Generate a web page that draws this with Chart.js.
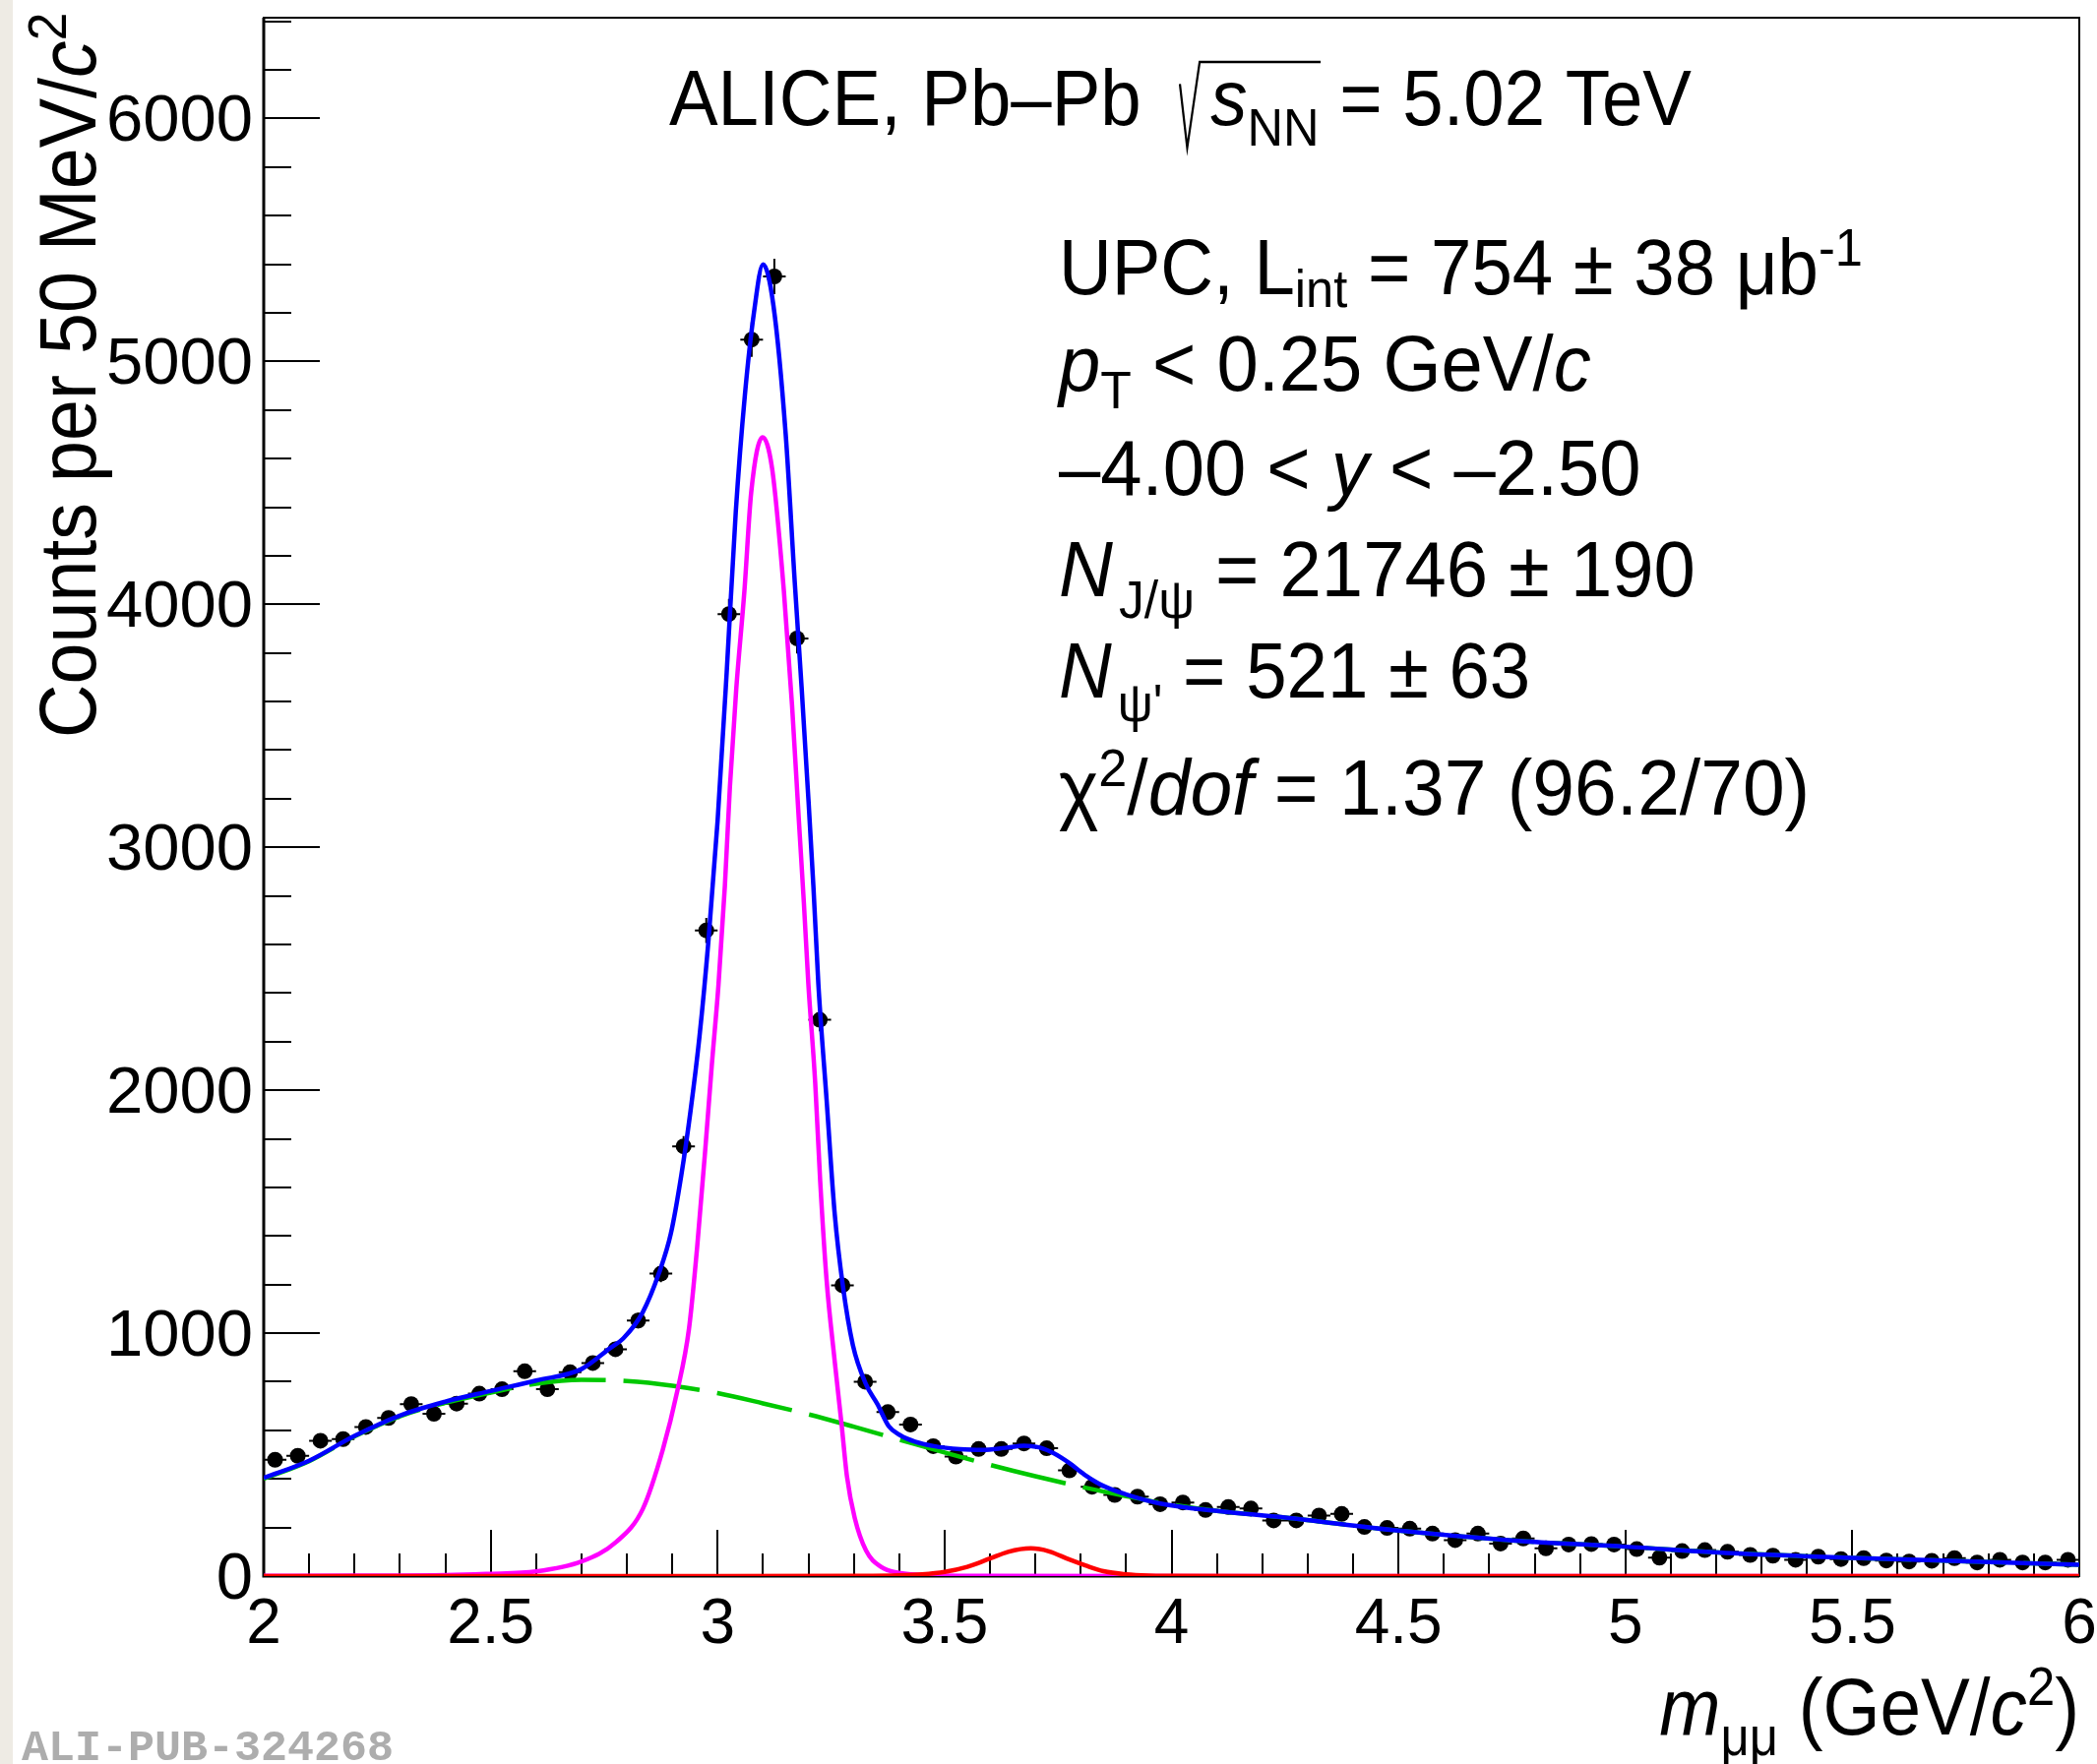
<!DOCTYPE html>
<html>
<head>
<meta charset="utf-8">
<script src="https://cdn.jsdelivr.net/npm/chart.js@4.4.1/dist/chart.umd.min.js"></script>
<style>
  html, body { margin: 0; padding: 0; background: #fff; }
  canvas { display: block; }
</style>
</head>
<body>
<canvas id="grafico" width="2131" height="1793"></canvas>
<script>
const massBins = [
  2.025, 2.075, 2.125, 2.175, 2.225, 2.275, 2.325, 2.375, 2.425, 2.475,
  2.525, 2.575, 2.625, 2.675, 2.725, 2.775, 2.825, 2.875, 2.925, 2.975,
  3.025, 3.075, 3.125, 3.175, 3.225, 3.275, 3.325, 3.375, 3.425, 3.475,
  3.525, 3.575, 3.625, 3.675, 3.725, 3.775, 3.825, 3.875, 3.925, 3.975,
  4.025, 4.075, 4.125, 4.175, 4.225, 4.275, 4.325, 4.375, 4.425, 4.475,
  4.525, 4.575, 4.625, 4.675, 4.725, 4.775, 4.825, 4.875, 4.925, 4.975,
  5.025, 5.075, 5.125, 5.175, 5.225, 5.275, 5.325, 5.375, 5.425, 5.475,
  5.525, 5.575, 5.625, 5.675, 5.725, 5.775, 5.825, 5.875, 5.925, 5.975
];
const counts = [
  479, 495, 557, 564, 614, 651, 708, 668, 710, 751,
  769, 843, 769, 839, 877, 934, 1052, 1245, 1769, 2658,
  3960, 5090, 5350, 3860, 2290, 1197, 800, 675, 624, 535,
  492, 523, 523, 546, 526, 435, 368, 334, 327, 296,
  303, 272, 284, 278, 229, 229, 249, 256, 202, 198,
  195, 175, 148, 175, 134, 155, 114, 130, 132, 130,
  111, 76, 103, 107, 100, 87, 84, 67, 80, 70,
  74, 64, 60, 63, 74, 56, 67, 56, 56, 67
];
const binHalfWidth = 0.025;

// ajuste total (azul)
const totalX = [2.00, 2.10, 2.20, 2.30, 2.40, 2.50, 2.60, 2.70, 2.763, 2.792, 2.835, 2.871, 2.897, 2.920, 2.940, 2.960, 2.980, 3.000, 3.020, 3.040, 3.060, 3.080, 3.100, 3.123, 3.150, 3.170, 3.185, 3.200, 3.211, 3.222, 3.240, 3.258, 3.276, 3.298, 3.327, 3.352, 3.377, 3.402, 3.435, 3.476, 3.534, 3.584, 3.634, 3.675, 3.708, 3.741, 3.775, 3.808, 3.850, 3.899, 3.975, 4.10, 4.25, 4.50, 4.75, 5.00, 5.25, 5.50, 5.75, 6.00];
const totalY = [404, 475, 577, 661, 718, 762, 805, 852, 938, 978, 1086, 1248, 1410, 1650, 1910, 2220, 2620, 3110, 3720, 4380, 4860, 5200, 5400, 5230, 4700, 4090, 3660, 3200, 2841, 2436, 1964, 1491, 1194, 951, 789, 708, 617, 580, 553, 535, 522, 519, 528, 537, 530, 505, 465, 418, 371, 337, 299, 268, 241, 187, 147, 121, 93, 75, 61, 47];

// sinal J/psi (magenta)
const jpsiX = [2.00, 2.20, 2.40, 2.49, 2.60, 2.70, 2.777, 2.835, 2.879, 2.911, 2.937, 2.955, 2.973, 2.987, 3.002, 3.016, 3.027, 3.041, 3.059, 3.074, 3.099, 3.120, 3.146, 3.164, 3.179, 3.190, 3.200, 3.215, 3.226, 3.240, 3.258, 3.273, 3.285, 3.302, 3.327, 3.360, 3.400, 3.450, 3.500, 3.600, 4.000, 6.000];
const jpsiY = [1, 2, 4, 9, 19, 60, 141, 276, 519, 760, 1019, 1356, 1761, 2099, 2436, 2841, 3246, 3650, 4055, 4461, 4688, 4560, 4055, 3584, 3111, 2773, 2436, 2031, 1626, 1221, 884, 627, 410, 240, 105, 38, 13, 5, 2, 1, 0, 0];

// sinal psi(2S) (vermelho)
const psi2sX = [2.00, 3.00, 3.30, 3.40, 3.45, 3.50, 3.55, 3.60, 3.64, 3.69, 3.73, 3.775, 3.81, 3.85, 3.90, 3.95, 4.00, 4.20, 6.00];
const psi2sY = [0, 0, 1, 3, 7, 17, 38, 72, 100, 114, 102, 68, 44, 20, 7, 2, 1, 0, 0];

// fundo (verde tracejado)
const bkgX = [2.00, 2.10, 2.20, 2.30, 2.40, 2.50, 2.60, 2.70, 2.80, 2.90, 3.00, 3.10, 3.20, 3.30, 3.40, 3.50, 3.60, 3.70, 3.80, 3.90, 4.00, 4.10, 4.25, 4.50, 4.75, 5.00, 5.25, 5.50, 5.75, 6.00];
const bkgY = [400, 473, 575, 658, 713, 755, 792, 808, 803, 784, 753, 711, 666, 615, 562, 509, 458, 411, 368, 329, 294, 268, 241, 187, 147, 121, 93, 75, 61, 47];

// eixos
const xTickValues = [2, 2.5, 3, 3.5, 4, 4.5, 5, 5.5, 6];
const xTickLabels = ['2', '2.5', '3', '3.5', '4', '4.5', '5', '5.5', '6'];
const yTickValues = [0, 1000, 2000, 3000, 4000, 5000, 6000];
const yTickLabels = ['0', '1000', '2000', '3000', '4000', '5000', '6000'];

const fonteBase = '"Liberation Sans", Arial, Helvetica, sans-serif';

function fonte(p, tam) {
  const s = (p.sub || p.sup) ? tam * 0.68 : tam;
  return (p.it ? 'italic ' : '') + s.toFixed(1) + 'px ' + fonteBase;
}

// texto estilo TLatex: partes com italico, subscrito, sobrescrito e raiz
function escreverRico(ctx, partes, x, y, tam, escalaX, alinhar, rot) {
  ctx.save();
  ctx.translate(x, y);
  if (rot) ctx.rotate(rot);
  ctx.scale(escalaX, 1);
  ctx.textBaseline = 'alphabetic';
  ctx.textAlign = 'left';
  ctx.fillStyle = '#000';
  ctx.strokeStyle = '#000';
  let largura = 0;
  partes.forEach(p => {
    ctx.font = fonte(p, tam);
    largura += ctx.measureText(p.t).width + (p.dx || 0) * tam + (p.raiz ? 0.42 * tam : 0);
  });
  let cx = alinhar === 'right' ? -largura : 0;
  let inicioRaiz = null;
  partes.forEach(p => {
    ctx.font = fonte(p, tam);
    cx += (p.dx || 0) * tam;
    if (p.raiz) { inicioRaiz = cx; cx += 0.42 * tam; }
    const dy = p.sub ? (p.off || 0.22) * tam : (p.sup ? -0.36 * tam : 0);
    ctx.fillText(p.t, cx, dy);
    cx += ctx.measureText(p.t).width;
    if (p.fimRaiz && inicioRaiz !== null) {
      ctx.beginPath();
      ctx.lineWidth = 0.03 * tam;
      ctx.moveTo(inicioRaiz, -0.52 * tam);
      ctx.lineTo(inicioRaiz + 0.1 * tam, 0.29 * tam);
      ctx.lineTo(inicioRaiz + 0.27 * tam, -0.8 * tam);
      ctx.lineTo(cx + 0.02 * tam, -0.8 * tam);
      ctx.stroke();
    }
  });
  ctx.restore();
}

const fundo = {
  id: 'fundo',
  beforeDraw(chart) {
    const ctx = chart.ctx;
    ctx.save();
    ctx.fillStyle = '#ffffff';
    ctx.fillRect(0, 0, chart.width, chart.height);
    ctx.fillStyle = '#eeebe4';
    ctx.fillRect(0, 0, 13, chart.height);
    ctx.restore();
  }
};

// moldura e marcas dos eixos (estilo ROOT, para dentro)
const eixos = {
  id: 'eixos',
  beforeDatasetsDraw(chart) {
    const ctx = chart.ctx, a = chart.chartArea;
    const sx = chart.scales.x, sy = chart.scales.y;
    ctx.save();
    ctx.strokeStyle = '#000';
    ctx.lineWidth = 2;
    ctx.strokeRect(a.left, a.top, a.right - a.left, a.bottom - a.top);
    ctx.lineWidth = 3;
    ctx.beginPath();
    ctx.moveTo(a.left, a.top); ctx.lineTo(a.left, a.bottom); ctx.lineTo(a.right, a.bottom);
    ctx.stroke();

    ctx.lineWidth = 2;
    ctx.beginPath();
    for (let v = 0; v <= sy.max; v += 200) {
      const py = Math.round(sy.getPixelForValue(v));
      const len = (v % 1000 === 0) ? 57 : 28;
      ctx.moveTo(a.left, py); ctx.lineTo(a.left + len, py);
    }
    for (let i = 0; i <= 40; i++) {
      const v = 2 + i * 0.1;
      const px = Math.round(sx.getPixelForValue(v));
      const len = (i % 5 === 0) ? 47 : 23;
      ctx.moveTo(px, a.bottom); ctx.lineTo(px, a.bottom - len);
    }
    ctx.stroke();
    ctx.restore();
  },
  afterDatasetsDraw(chart) {
    const ctx = chart.ctx, a = chart.chartArea;
    const sx = chart.scales.x, sy = chart.scales.y;
    ctx.save();
    ctx.fillStyle = '#000';
    ctx.textBaseline = 'alphabetic';
    ctx.font = '67px ' + fonteBase;
    ctx.textAlign = 'right';
    yTickValues.forEach((v, i) => {
      ctx.fillText(yTickLabels[i], a.left - 11, sy.getPixelForValue(v) + 23);
    });
    ctx.font = '64px ' + fonteBase;
    ctx.textAlign = 'center';
    xTickValues.forEach((v, i) => {
      ctx.fillText(xTickLabels[i], sx.getPixelForValue(v), a.bottom + 68);
    });
    ctx.restore();

    // titulos dos eixos
    escreverRico(ctx, [{ t: 'Counts per 50 MeV/' }, { t: 'c', it: true }, { t: '2', sup: true }],
      97, 750, 82, 0.92, 'left', -Math.PI / 2);
    escreverRico(ctx, [{ t: 'm', it: true }, { t: 'μμ', sub: true, off: 0.26 }, { t: ' (GeV/' }, { t: 'c', it: true }, { t: '2', sup: true }, { t: ')' }],
      a.right, 1763, 82, 0.91, 'right');

    // legendas de texto
    escreverRico(ctx, [{ t: 'ALICE, Pb–Pb ' }, { t: 's', it: true, raiz: true, dx: 0.25 }, { t: 'NN', sub: true, fimRaiz: true, off: 0.26 }, { t: ' = 5.02 TeV' }],
      680, 127, 80, 0.93, 'left');
    const x0 = 1076;
    escreverRico(ctx, [{ t: 'UPC, L' }, { t: 'int', sub: true, off: 0.16 }, { t: ' = 754 ± 38 μb' }, { t: '-1', sup: true }], x0, 299, 80, 0.93);
    escreverRico(ctx, [{ t: 'p', it: true }, { t: 'T', sub: true }, { t: ' < 0.25 GeV/' }, { t: 'c', it: true }], x0, 397, 80, 0.95);
    escreverRico(ctx, [{ t: '–4.00 < ' }, { t: 'y', it: true }, { t: ' < –2.50' }], x0, 503, 80, 0.95);
    escreverRico(ctx, [{ t: 'N', it: true }, { t: 'J/ψ', sub: true, dx: 0.08, off: 0.28 }, { t: ' = 21746 ± 190' }], x0, 606, 80, 0.95);
    escreverRico(ctx, [{ t: 'N', it: true }, { t: "ψ'", sub: true, dx: 0.08, off: 0.3 }, { t: ' = 521 ± 63' }], x0, 709, 80, 0.93);
    escreverRico(ctx, [{ t: 'χ' }, { t: '2', sup: true }, { t: '/' }, { t: 'dof', it: true }, { t: ' = 1.37 (96.2/70)' }], x0, 828, 80, 0.96);

    ctx.save();
    ctx.fillStyle = '#adadad';
    ctx.font = 'bold 45px "Liberation Mono", "Courier New", monospace';
    ctx.textAlign = 'left';
    ctx.textBaseline = 'alphabetic';
    ctx.fillText('ALI-PUB-324268', 22, 1789);
    ctx.restore();
  }
};

// barras de erro: largura do bin na horizontal, erro de Poisson na vertical
const barrasErro = {
  id: 'barrasErro',
  beforeDatasetsDraw(chart) {
    const ctx = chart.ctx;
    const sx = chart.scales.x, sy = chart.scales.y;
    ctx.save();
    ctx.strokeStyle = '#000';
    ctx.lineWidth = 2;
    ctx.beginPath();
    for (let i = 0; i < massBins.length; i++) {
      const e = Math.sqrt(counts[i]);
      const px = sx.getPixelForValue(massBins[i]);
      const py = sy.getPixelForValue(counts[i]);
      ctx.moveTo(sx.getPixelForValue(massBins[i] - binHalfWidth), py);
      ctx.lineTo(sx.getPixelForValue(massBins[i] + binHalfWidth), py);
      ctx.moveTo(px, sy.getPixelForValue(counts[i] - e));
      ctx.lineTo(px, sy.getPixelForValue(counts[i] + e));
    }
    ctx.stroke();
    ctx.restore();
  }
};

function pares(xs, ys) {
  return xs.map((x, i) => ({ x: x, y: ys[i] }));
}

function curva(xs, ys, cor, ordem, tracejado) {
  return {
    data: pares(xs, ys),
    showLine: true,
    borderColor: cor,
    backgroundColor: cor,
    borderWidth: 4.5,
    borderDash: tracejado || [],
    pointRadius: 0,
    fill: false,
    cubicInterpolationMode: 'monotone',
    order: ordem
  };
}

new Chart(document.getElementById('grafico'), {
  type: 'scatter',
  data: {
    datasets: [
      curva(totalX, totalY, '#0000ff', 0),
      curva(psi2sX, psi2sY, '#ff0000', 1),
      curva(jpsiX, jpsiY, '#ff00ff', 2),
      curva(bkgX, bkgY, '#00c800', 3, [78, 18]),
      {
        data: pares(massBins, counts),
        showLine: false,
        pointRadius: 8,
        pointBackgroundColor: '#000',
        pointBorderColor: '#000',
        pointBorderWidth: 0,
        order: 4
      }
    ]
  },
  options: {
    responsive: false,
    animation: false,
    devicePixelRatio: 1,
    events: [],
    layout: { padding: { left: 268, right: 18, top: 18, bottom: 191 } },
    plugins: { legend: { display: false }, tooltip: { enabled: false } },
    scales: {
      x: { type: 'linear', min: 2, max: 6, display: false },
      y: { type: 'linear', min: 0, max: 6415, display: false }
    }
  },
  plugins: [fundo, eixos, barrasErro]
});
</script>
</body>
</html>
